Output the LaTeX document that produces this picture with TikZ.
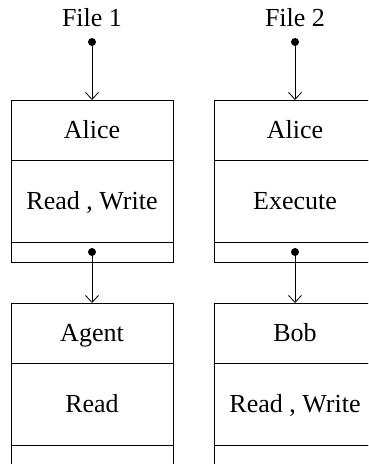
\documentclass[tikz,border=0pt]{standalone}
\usepackage{fontspec}
\setmainfont{Liberation Serif}
\usetikzlibrary{arrows.meta, positioning}

\tikzset{
    cell/.style={draw, minimum width=162pt, inner sep=0pt, outer sep=0pt,
        text height=20pt, text depth=4pt,
        line width=0.8pt, font=\fontsize{26}{31}\selectfont},
    head/.style={cell, minimum height=60pt},
    perms/.style={cell, minimum height=82pt},
    tail/.style={cell, minimum height=20pt, text height=0pt, text depth=0pt},
    label/.style={font=\fontsize{26}{31}\selectfont},
    ptr/.style={-{Straight Barb[length=7pt, width=13pt]}, line width=0.8pt}
}

\begin{document}
\begin{tikzpicture}[x=1pt, y=1pt]
    \clip (0,0) rectangle (368,-464);

    % File 1 list
    \node[label] (file1) at (92,-18) {File 1};
    \coordinate (src1) at (92,-42);
    \node[head] (alice1) at (92,-130) {Alice};
    \node[perms, below=0pt of alice1] (rw1) {Read , Write};
    \node[tail, below=0pt of rw1] (end1) {};
    \node[head] (agent) at (92,-333) {Agent};
    \node[perms, below=0pt of agent] (rd) {Read};
    \node[tail, below=0pt of rd] (end3) {};

    % File 2 list
    \node[label] (file2) at (295,-18) {File 2};
    \coordinate (src2) at (295,-42);
    \node[head] (alice2) at (295,-130) {Alice};
    \node[perms, below=0pt of alice2] (ex) {Execute};
    \node[tail, below=0pt of ex] (end2) {};
    \node[head] (bob) at (295,-333) {Bob};
    \node[perms, below=0pt of bob] (rw2) {Read , Write};
    \node[tail, below=0pt of rw2] (end4) {};

    % Pointers
    \fill (src1) circle (4);
    \fill (src2) circle (4);
    \fill (end1.center) circle (4);
    \fill (end2.center) circle (4);
    \draw[ptr] (src1) -- (alice1.north);
    \draw[ptr] (src2) -- (alice2.north);
    \draw[ptr] (end1.center) -- (agent.north);
    \draw[ptr] (end2.center) -- (bob.north);
\end{tikzpicture}
\end{document}
